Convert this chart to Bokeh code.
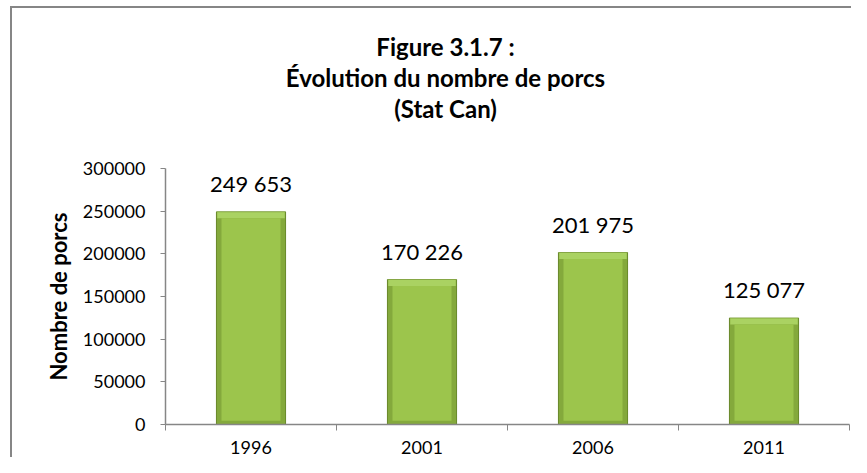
from bokeh.plotting import figure
from bokeh.layouts import column
from bokeh.models import (ColumnDataSource, Range1d, FixedTicker, BasicTickFormatter, Title)
from bokeh.core.properties import value
from bokeh.embed import file_html
from bokeh.resources import INLINE

years = ["1996", "2001", "2006", "2011"]
pigs = [249653, 170226, 201975, 125077]
y_ticks = [0, 50000, 100000, 150000, 200000, 250000, 300000]
title_lines = ["Figure 3.1.7 :", "Évolution du nombre de porcs", "(Stat Can)"]
y_label = "Nombre de porcs"

FONT = "Lato"
GRAY = "#868686"

W, H = 851, 457
TITLE_H = 150
LEFT, RIGHT, TOP, BOTTOM = 165, 2, 18, 33
TITLE_CENTER = 445

xs = [i + 0.5 for i in range(len(years))]
labels = [f"{v:,}".replace(",", " ") for v in pigs]
src = ColumnDataSource(dict(x=xs, v=pigs, lab=labels))

# ---- title block: a blank figure whose frame is centred on the title centre
tf = figure(width=W, height=TITLE_H, output_backend="svg", toolbar_location=None,
            x_axis_location=None, y_axis_location=None,
            min_border_left=2 * TITLE_CENTER - W, min_border_right=0,
            min_border_top=122, min_border_bottom=0)
tf.frame_align = False
tf.border_fill_color = None
tf.background_fill_color = None
tf.outline_line_color = None
tf.grid.visible = False
for t in reversed(title_lines):
    tf.add_layout(Title(text=t, align="center", text_font=FONT, text_font_style="bold",
                        text_font_size="24px", text_color="#000000", standoff=0), "above")

# ---- chart
p = figure(width=W, height=H - TITLE_H, output_backend="svg", toolbar_location=None,
           x_range=Range1d(0, len(years)), y_range=Range1d(y_ticks[0], y_ticks[-1]),
           min_border_left=LEFT, min_border_right=RIGHT, min_border_top=TOP,
           min_border_bottom=BOTTOM)
p.frame_align = False
p.border_fill_color = None
p.background_fill_color = "white"
p.outline_line_color = None
p.xgrid.visible = False
p.ygrid.visible = False

# bars (layered to imitate Excel bevel)
p.vbar(x="x", top="v", bottom=0, width=0.41, source=src, fill_color="#66852a", line_color=None)
p.vbar(x="x", top="v", bottom=0, width=0.40, source=src, fill_color="#84a93c", line_color=None)
src2 = ColumnDataSource(dict(x=xs, top=[v - 1000 for v in pigs], bot=[v - 8000 for v in pigs]))
p.vbar(x="x", top="top", bottom="bot", width=0.395, source=src2, fill_color="#aad262", line_color=None)
src3 = ColumnDataSource(dict(x=xs, top=[v - 8000 for v in pigs]))
p.vbar(x="x", top="top", bottom=4500, width=0.345, source=src3, fill_color="#9cc54c", line_color=None)

p.text(x="x", y="v", text="lab", source=src, text_align="center", text_baseline="alphabetic",
       y_offset=-28, text_font_size="22px", text_font=value(FONT), text_color="#000000")

# axes
yax = p.yaxis[0]
yax.ticker = FixedTicker(ticks=y_ticks)
yax.formatter = BasicTickFormatter(use_scientific=False)
yax.axis_line_color = GRAY
yax.axis_line_width = 1.5
yax.major_tick_line_color = GRAY
yax.major_tick_out = 5
yax.major_tick_in = 0
yax.minor_tick_line_color = None
yax.major_label_text_font = FONT
yax.major_label_text_font_size = "18px"
yax.major_label_text_color = "#000000"
yax.major_label_standoff = 15
yax.axis_label = y_label
yax.axis_label_text_font = FONT
yax.axis_label_text_font_style = "bold"
yax.axis_label_text_font_size = "22px"
yax.axis_label_text_color = "#000000"
yax.axis_label_standoff = 8

xax = p.xaxis[0]
xax.ticker = FixedTicker(ticks=xs, minor_ticks=list(range(len(years) + 1)))
xax.major_label_overrides = {x: y for x, y in zip(xs, years)}
xax.axis_line_color = GRAY
xax.axis_line_width = 1.5
xax.major_tick_line_color = None
xax.major_tick_out = 0
xax.major_tick_in = 0
xax.minor_tick_line_color = GRAY
xax.minor_tick_out = 6
xax.minor_tick_in = 0
xax.major_label_text_font = FONT
xax.major_label_text_font_size = "18px"
xax.major_label_text_color = "#000000"
xax.major_label_standoff = 10

layout = column(tf, p, spacing=0)
# chart-area border (left and top edges visible), drawn behind the transparent canvases
layout.styles = {
    "background-color": "white",
    "background-image": f"linear-gradient({GRAY},{GRAY}), linear-gradient({GRAY},{GRAY})",
    "background-size": f"2px {H}px, {W}px 2px",
    "background-position": "10px 6px, 10px 6px",
    "background-repeat": "no-repeat",
}

open("out.html", "w").write(file_html(layout, INLINE))
